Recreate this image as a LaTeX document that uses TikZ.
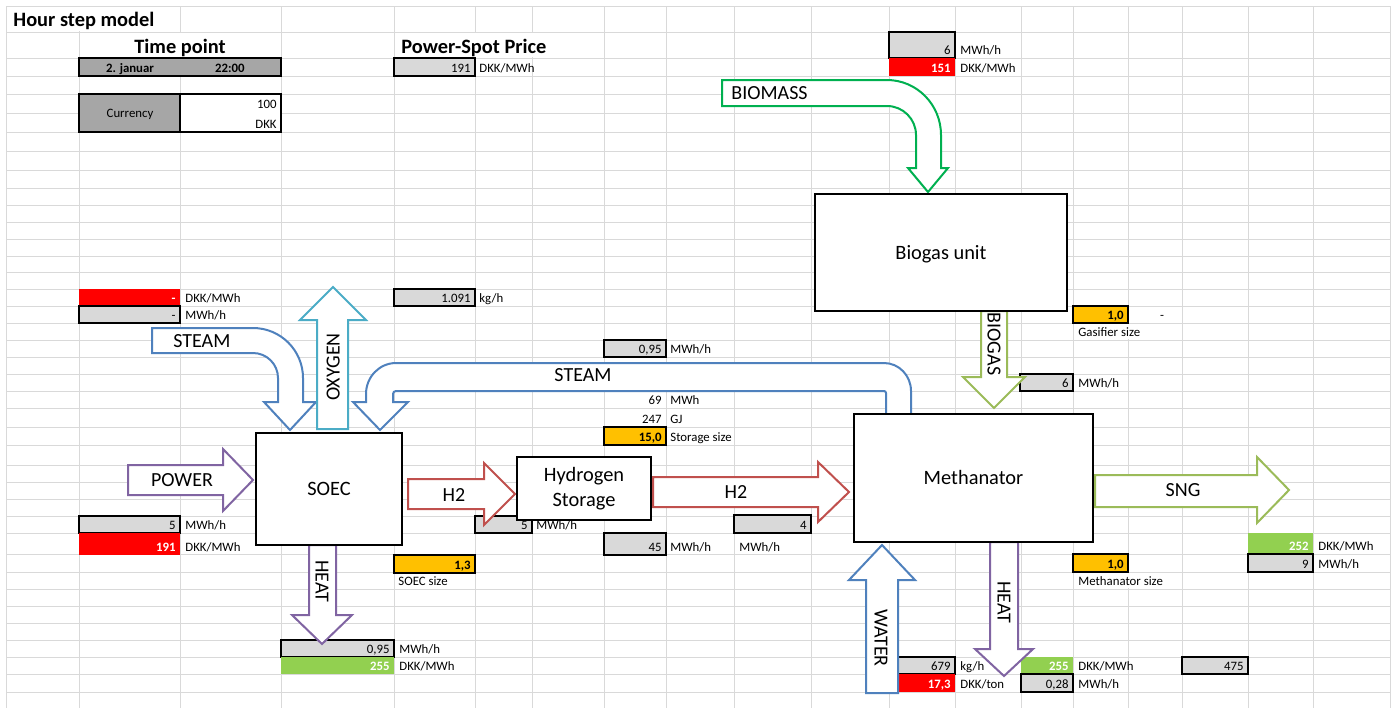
\documentclass[tikz,border=0pt]{standalone}
\usepackage{fontspec}
\setmainfont{Carlito}
\usetikzlibrary{positioning, calc}
\definecolor{xlGrid}{HTML}{D9D9D9}
\definecolor{xlGray}{HTML}{D9D9D9}
\definecolor{xlDark}{HTML}{A6A6A6}
\definecolor{xlRed}{HTML}{FF0000}
\definecolor{xlOrange}{HTML}{FFC000}
\definecolor{xlGreen}{HTML}{92D050}
\definecolor{flowBlue}{HTML}{4F81BD}
\definecolor{flowCyan}{HTML}{4BACC6}
\definecolor{flowPurple}{HTML}{8064A2}
\definecolor{flowRed}{HTML}{C0504D}
\definecolor{flowGreen}{HTML}{00B050}
\definecolor{flowOlive}{HTML}{9BBB59}
\tikzset{
  gridL/.style={draw=xlGrid, line width=0.5pt},
  cellG/.style={fill=xlGray, draw=black, line width=0.8pt},
  cellD/.style={fill=xlDark, draw=black, line width=0.8pt},
  cellW/.style={fill=white, draw=black, line width=0.8pt},
  cellO/.style={fill=xlOrange, draw=black, line width=0.8pt},
  cellR/.style={fill=xlRed},
  cellN/.style={fill=xlGreen},
  valT/.style={inner sep=0pt, font=\fontsize{6.4}{7.5}\selectfont},
  valB/.style={valT, font=\fontsize{6.4}{7.5}\selectfont\bfseries},
  valW/.style={valB, text=white},
  unitT/.style={valT, anchor=base west},
  hdr/.style={inner sep=0pt, font=\fontsize{10.2}{12}\selectfont\bfseries},
  flowA/.style={draw=#1, fill=white, line width=1pt, line join=miter},
  flowT/.style={inner sep=0pt, font=\fontsize{10}{12}\selectfont,
                text height=6.5pt, text depth=0pt},
  unitBox/.style={draw=black, fill=white, line width=1.2pt, inner sep=0pt,
                  font=\fontsize{10.2}{12.2}\selectfont, align=center},
}
% one value cell of the sheet: name, cell style, text style, x1, y1, x2, y2, value
\newcommand{\valcell}[8]{%
  \path[#2] (#4,#5) rectangle (#6,#7);
  \node[#3, anchor=base east] (#1) at ({#6-4},{#7-4}) {#8};}

\begin{document}
\begin{tikzpicture}[x=0.5pt, y=-0.5pt]
  \path[use as bounding box, fill=white] (0,0) rectangle (1396,708);
  % sheet grid
  \foreach \gx in {6,79,180,281,394,475,532,604,666,734,811,889,955,1021,1073,1128,1182,1248,1313,1390}
    \draw[gridL] (\gx,6) -- (\gx,708);
  \foreach \gy in {6,32,58,76,94,113,132,151,170,188,205,222,239,256,272,289,306,323,340,357,374,391,408,427,445,465,482,499,516,533,554,572,589,606,623,640,657,674,692}
    \draw[gridL] (6,\gy) -- (1390,\gy);
  % merged cells and overflowing text hide the grid
  \fill[white] (6.6,6.6) rectangle (179.4,31.4);
  \fill[white] (79.6,32.6) rectangle (280.4,57.4);
  \fill[white] (394.6,32.6) rectangle (603.4,57.4);
  \fill[white] (1073.6,323.6) rectangle (1181.4,339.4);
  \fill[white] (1073.6,572.6) rectangle (1181.4,588.4);

  % headers
  \node[hdr, anchor=base west] (title) at (13,26.5) {Hour step model};
  \node[hdr, anchor=base] (timeHdr) at (180,53) {Time point};
  \node[hdr, anchor=base west] (spotHdr) at (401,53) {Power-Spot Price};
  \path[cellD] (79,58) rectangle (281,76);
  \node[valB, anchor=base] (dateC) at (130,72) {2. januar};
  \node[valB, anchor=base east] (hourC) at (245,72) {22:00};
  \path[cellD] (79,94) rectangle (180,132);
  \node[valT, anchor=base] (curC) at (130,117) {Currency};
  \path[cellW] (180,94) rectangle (281,132);
  \node[valT, anchor=base east] (curV) at (277,108) {100};
  \node[valT, anchor=base east] (curU) at (277,128) {DKK};
  \valcell{spotV}{cellG}{valT}{394}{58}{475}{76}{191}
  \node[unitT] (spotU) at (479,72) {DKK/MWh};

  % biomass input
  \valcell{bioQ}{cellG}{valT}{889}{32}{955}{58}{6}
  \node[unitT] (bioQu) at (960,54) {MWh/h};
  \valcell{bioP}{cellR}{valW}{889}{58}{955}{76}{151}
  \node[unitT] (bioPu) at (960,72) {DKK/MWh};

  % steam, oxygen, storage, gasifier
  \valcell{stP}{cellR}{valW}{79}{289}{180}{306}{-}
  \node[unitT] (stPu) at (185,302) {DKK/MWh};
  \valcell{stQ}{cellG}{valT}{79}{306}{180}{323}{-}
  \node[unitT] (stQu) at (185,319) {MWh/h};
  \valcell{oxQ}{cellG}{valT}{394}{289}{475}{306}{1.091}
  \node[unitT] (oxQu) at (479,302) {kg/h};
  \valcell{stmQ}{cellG}{valT}{604}{340}{666}{357}{0,95}
  \node[unitT] (stmQu) at (670,353) {MWh/h};
  \node[valT, anchor=base east] (stoE) at (662,404) {69};
  \node[unitT] (stoEu) at (670,404) {MWh};
  \node[valT, anchor=base east] (stoJ) at (662,423) {247};
  \node[unitT] (stoJu) at (670,423) {GJ};
  \valcell{stoS}{cellO}{valB}{604}{427}{666}{445}{15,0}
  \node[unitT] (stoSu) at (670,441) {Storage size};
  \valcell{gasS}{cellO}{valB}{1073}{306}{1128}{323}{1,0}
  \node[valT, anchor=base] (gasSd) at (1162,319) {-};
  \node[unitT] (gasSu) at (1078,336) {Gasifier size};
  \valcell{bgQ}{cellG}{valT}{1020}{374}{1073}{391}{6}
  \node[unitT] (bgQu) at (1078,387) {MWh/h};

  % power, hydrogen, methanator values
  \valcell{pwQ}{cellG}{valT}{79}{516}{180}{533}{5}
  \node[unitT] (pwQu) at (185,529) {MWh/h};
  \valcell{pwP}{cellR}{valW}{79}{533}{180}{555}{191}
  \node[unitT] (pwPu) at (185,551) {DKK/MWh};
  \valcell{hyQ}{cellG}{valT}{475}{516}{532}{533}{5}
  \node[unitT] (hyQu) at (536,529) {MWh/h};
  \valcell{hsQ}{cellG}{valT}{604}{533}{666}{555}{45}
  \node[unitT] (hsQu) at (670,551) {MWh/h};
  \valcell{hmQ}{cellG}{valT}{734}{515}{811}{533}{4}
  \node[unitT] (hmQu) at (739,551) {MWh/h};
  \valcell{soS}{cellO}{valB}{394}{555}{475}{573}{1,3}
  \node[unitT] (soSu) at (398,585) {SOEC size};
  \valcell{meS}{cellO}{valB}{1073}{554}{1128}{572}{1,0}
  \node[unitT] (meSu) at (1078,585) {Methanator size};
  \valcell{sngP}{cellN}{valW}{1248}{533}{1313}{554}{252}
  \node[unitT] (sngPu) at (1318,550) {DKK/MWh};
  \valcell{sngQ}{cellG}{valT}{1248}{554}{1313}{572}{9}
  \node[unitT] (sngQu) at (1318,568) {MWh/h};

  % heat and water values
  \valcell{shQ}{cellG}{valT}{281}{640}{394}{657}{0,95}
  \node[unitT] (shQu) at (399,653) {MWh/h};
  \valcell{shP}{cellN}{valW}{281}{657}{394}{674}{255}
  \node[unitT] (shPu) at (399,670) {DKK/MWh};
  \valcell{waQ}{cellG}{valT}{889}{657}{955}{674}{679}
  \node[unitT] (waQu) at (960,670) {kg/h};
  \valcell{waP}{cellR}{valW}{889}{674}{955}{692}{17,3}
  \node[unitT] (waPu) at (960,688) {DKK/ton};
  \valcell{mhP}{cellN}{valW}{1021}{657}{1073}{674}{255}
  \node[unitT] (mhPu) at (1078,670) {DKK/MWh};
  \valcell{mhQ}{cellG}{valT}{1021}{674}{1073}{692}{0,28}
  \node[unitT] (mhQu) at (1078,688) {MWh/h};
  \valcell{sngE}{cellG}{valT}{1182}{657}{1248}{674}{475}

  % flow arrows
  \draw[flowA=flowGreen] (722,80) -- (887,80) .. controls (916.8,80) and (941,104.6) .. (941,135)
    -- (941,168) -- (948,168) -- (928,192) -- (908,168) -- (916,168) -- (916,135)
    .. controls (916,119) and (903,106) .. (887,106) -- (722,106) -- cycle;
  \node[flowT, anchor=west] (lblBiomass) at (731,93) {BIOMASS};
  \draw[flowA=flowBlue] (152,328) -- (253,328) .. controls (280.6,328) and (303,350.4) .. (303,378)
    -- (303,402) -- (316,402) -- (290,430) -- (264,402) -- (278,402) -- (278,378)
    .. controls (278,364.2) and (266.8,353) .. (253,353) -- (152,353) -- cycle;
  \node[flowT, anchor=west] (lblSteamIn) at (173,341) {STEAM};
  \draw[flowA=flowCyan] (317,429) -- (317,320) -- (300,320) -- (333,287) -- (366,320)
    -- (348,320) -- (348,429) -- cycle;
  \node[flowT, rotate=90] (lblOxygen) at (333,367) {OXYGEN};
  \draw[flowA=flowBlue] (911,414) -- (911,391) .. controls (911,375.5) and (898.9,363) .. (884,363)
    -- (396,363) .. controls (379.4,363) and (366,376.9) .. (366,394)
    -- (366,402) -- (353,402) -- (380,430) -- (408,402) -- (393,402) -- (393,394)
    .. controls (393,392.3) and (394.3,391) .. (396,391) -- (884,391)
    .. controls (885.1,391) and (886,391.9) .. (886,393) -- (886,414) -- cycle;
  \node[flowT] (lblSteamBack) at (583,375) {STEAM};
  \draw[flowA=flowPurple] (128,465) -- (223,465) -- (223,449) -- (253,480) -- (223,511)
    -- (223,495) -- (128,495) -- cycle;
  \node[flowT] (lblPower) at (182,480) {POWER};
  \draw[flowA=flowRed] (408,479) -- (484,479) -- (484,463) -- (515,494) -- (484,525)
    -- (484,509) -- (408,509) -- cycle;
  \node[flowT] (lblHa) at (454,495) {H2};
  \draw[flowA=flowRed] (653,477) -- (818,477) -- (818,462) -- (849,492) -- (818,522)
    -- (818,507) -- (653,507) -- cycle;
  \node[flowT] (lblHb) at (736,492) {H2};
  \draw[flowA=flowOlive] (1095,475) -- (1257,475) -- (1257,457) -- (1289,490) -- (1257,523)
    -- (1257,507) -- (1095,507) -- cycle;
  \node[flowT] (lblSng) at (1183,490) {SNG};
  \draw[flowA=flowOlive] (981,311) -- (981,377) -- (963,377) -- (994,408) -- (1025,377)
    -- (1007,377) -- (1007,311) -- cycle;
  \node[flowT, rotate=-90] (lblBiogas) at (994,344) {BIOGAS};
  \draw[flowA=flowPurple] (309,545) -- (309,615) -- (292,615) -- (322,644) -- (352,615)
    -- (336,615) -- (336,545) -- cycle;
  \node[flowT, rotate=-90] (lblHeatA) at (322,581) {HEAT};
  \draw[flowA=flowPurple] (990,542) -- (990,649) -- (975,649) -- (1004,676) -- (1033,649)
    -- (1018,649) -- (1018,542) -- cycle;
  \node[flowT, rotate=-90] (lblHeatB) at (1004,602) {HEAT};
  \draw[flowA=flowBlue] (866,693) -- (866,580) -- (849,580) -- (882,545) -- (915,580)
    -- (898,580) -- (898,693) -- cycle;
  \node[flowT, rotate=-90] (lblWater) at (881,638) {WATER};

  % process units
  \node[unitBox, minimum width=73pt, minimum height=56pt, text height=6.5pt, text depth=0pt]
    (soec) at (329,489) {SOEC};
  \node[unitBox, minimum width=67pt, minimum height=31.5pt] (h2store) at (584,488.5)
    {Hydrogen\\Storage};
  \node[unitBox, minimum width=119.5pt, minimum height=64pt, text height=6.5pt, text depth=0pt]
    (meth) at (973.5,478) {Methanator};
  \node[unitBox, minimum width=126pt, minimum height=58.5pt, text height=6.5pt, text depth=0pt]
    (biogas) at (941,252.5) {Biogas unit};
\end{tikzpicture}
\end{document}
